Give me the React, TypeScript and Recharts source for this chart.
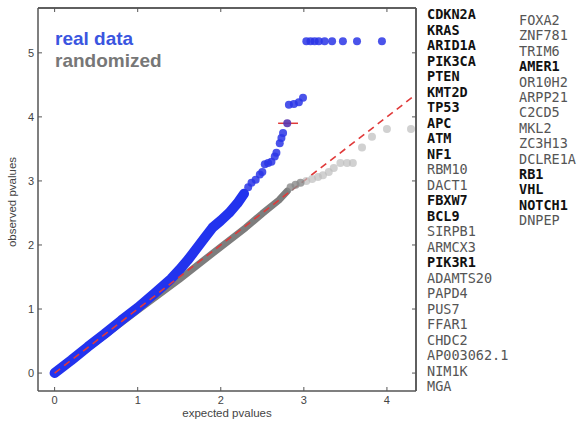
import { ComposedChart, Line, Scatter, XAxis, YAxis, ReferenceLine } from "recharts";

// dense part of the real data (drawn as a thick band)
const realBand = [
  { x: 0, y: 0 },
  { x: 0.2, y: 0.2 },
  { x: 0.4, y: 0.41 },
  { x: 0.6, y: 0.61 },
  { x: 0.8, y: 0.82 },
  { x: 1.0, y: 1.02 },
  { x: 1.2, y: 1.24 },
  { x: 1.4, y: 1.47 },
  { x: 1.5, y: 1.61 },
  { x: 1.6, y: 1.76 },
  { x: 1.7, y: 1.93 },
  { x: 1.8, y: 2.1 },
  { x: 1.9, y: 2.27 },
  { x: 2.0, y: 2.38 },
  { x: 2.1, y: 2.5 },
  { x: 2.2, y: 2.65 },
  { x: 2.28, y: 2.8 },
];

const realPoints = [
  { x: 2.33, y: 2.9 },
  { x: 2.37, y: 2.97 },
  { x: 2.42, y: 3.02 },
  { x: 2.47, y: 3.1 },
  { x: 2.5, y: 3.14 },
  { x: 2.53, y: 3.26 },
  { x: 2.57, y: 3.28 },
  { x: 2.61, y: 3.3 },
  { x: 2.65, y: 3.38 },
  { x: 2.67, y: 3.44 },
  { x: 2.71, y: 3.59 },
  { x: 2.73, y: 3.67 },
  { x: 2.75, y: 3.75 },
  { x: 2.82, y: 4.19 },
  { x: 2.88, y: 4.2 },
  { x: 2.94, y: 4.23 },
  { x: 2.99, y: 4.3 },
  { x: 3.03, y: 5.18 },
  { x: 3.08, y: 5.18 },
  { x: 3.13, y: 5.18 },
  { x: 3.18, y: 5.18 },
  { x: 3.25, y: 5.18 },
  { x: 3.34, y: 5.18 },
  { x: 3.47, y: 5.18 },
  { x: 3.64, y: 5.18 },
  { x: 3.94, y: 5.18 },
];

const markedPoint = [{ x: 2.8, y: 3.9 }];

// dense part of the randomized data
const randBand = [
  { x: 0, y: 0 },
  { x: 0.5, y: 0.49 },
  { x: 1.0, y: 0.98 },
  { x: 1.5, y: 1.46 },
  { x: 2.0, y: 1.97 },
  { x: 2.3, y: 2.27 },
  { x: 2.5, y: 2.49 },
  { x: 2.7, y: 2.7 },
  { x: 2.8, y: 2.84 },
];

const randPointsDark = [
  { x: 2.84, y: 2.9 },
  { x: 2.9, y: 2.94 },
  { x: 2.96, y: 2.97 },
];

const randPoints = [
  { x: 3.03, y: 3.0 },
  { x: 3.1, y: 3.03 },
  { x: 3.17, y: 3.06 },
  { x: 3.23, y: 3.09 },
  { x: 3.3, y: 3.14 },
  { x: 3.36, y: 3.2 },
  { x: 3.44, y: 3.28 },
  { x: 3.52, y: 3.28 },
  { x: 3.59, y: 3.28 },
  { x: 3.7, y: 3.52 },
  { x: 3.82, y: 3.69 },
  { x: 4.0, y: 3.81 },
  { x: 4.29, y: 3.81 },
];

const diagonal = [
  { x: 0, y: 0 },
  { x: 4.35, y: 4.35 },
];

const X_DOMAIN: [number, number] = [-0.2, 4.35];
const Y_DOMAIN: [number, number] = [-0.28, 5.7];
const xTicks = [0, 1, 2, 3, 4];
const yTicks = [0, 1, 2, 3, 4, 5];

const genesLeft: [string, boolean][] = [
  ["CDKN2A", true],
  ["KRAS", true],
  ["ARID1A", true],
  ["PIK3CA", true],
  ["PTEN", true],
  ["KMT2D", true],
  ["TP53", true],
  ["APC", true],
  ["ATM", true],
  ["NF1", true],
  ["RBM10", false],
  ["DACT1", false],
  ["FBXW7", true],
  ["BCL9", true],
  ["SIRPB1", false],
  ["ARMCX3", false],
  ["PIK3R1", true],
  ["ADAMTS20", false],
  ["PAPD4", false],
  ["PUS7", false],
  ["FFAR1", false],
  ["CHDC2", false],
  ["AP003062.1", false],
  ["NIM1K", false],
  ["MGA", false],
];

const genesRight: [string, boolean][] = [
  ["FOXA2", false],
  ["ZNF781", false],
  ["TRIM6", false],
  ["AMER1", true],
  ["OR10H2", false],
  ["ARPP21", false],
  ["C2CD5", false],
  ["MKL2", false],
  ["ZC3H13", false],
  ["DCLRE1A", false],
  ["RB1", true],
  ["VHL", true],
  ["NOTCH1", true],
  ["DNPEP", false],
];

const AXIS = "#555";
const tickFont = "'Liberation Sans', Arial, sans-serif";

const BottomTick = (props: any) => {
  const { x, y, payload } = props;
  const axisY = y - 4;
  return (
    <g>
      <line x1={x} x2={x} y1={axisY} y2={axisY - 4} stroke={AXIS} />
      <text x={x} y={y + 9} textAnchor="middle" fontSize={11} fill="#444" fontFamily={tickFont}>
        {payload.value}
      </text>
    </g>
  );
};

const LeftTick = (props: any) => {
  const { x, y, payload } = props;
  const axisX = x + 4;
  return (
    <g>
      <line x1={axisX} x2={axisX + 4} y1={y} y2={y} stroke={AXIS} />
      <text x={x} y={y + 4} textAnchor="end" fontSize={11} fill="#444" fontFamily={tickFont}>
        {payload.value}
      </text>
    </g>
  );
};

const TopTick = (props: any) => {
  const { x, y } = props;
  return <line x1={x} x2={x} y1={y} y2={y + 4} stroke={AXIS} />;
};

const RightTick = (props: any) => {
  const { x, y } = props;
  return <line x1={x} x2={x - 4} y1={y} y2={y} stroke={AXIS} />;
};

const dot = (fill: string, opacity: number, r = 4) => (props: any) =>
  <circle cx={props.cx} cy={props.cy} r={r} fill={fill} fillOpacity={opacity} />;

const GeneColumn = ({ genes, left, top, lh }: { genes: [string, boolean][]; left: number; top: number; lh: number }) => (
  <div
    style={{
      position: "absolute",
      left,
      top,
      fontFamily: "'DejaVu Sans Mono', monospace",
      fontSize: 13.5,
      lineHeight: `${lh}px`,
      whiteSpace: "pre",
    }}
  >
    {genes.map(([g, b]) => (
      <div key={g} style={{ fontWeight: b ? "bold" : "normal", color: b ? "#111" : "#555" }}>
        {g}
      </div>
    ))}
  </div>
);

export default function App() {
  return (
    <div style={{ position: "absolute", left: 0, top: 0, width: 581, height: 421, background: "#fff" }}>
      <ComposedChart width={581} height={421} margin={{ top: 7, right: 164, bottom: 10, left: 8 }}>
        <XAxis
          type="number"
          dataKey="x"
          domain={X_DOMAIN}
          ticks={xTicks}
          allowDataOverflow
          height={20}
          tickSize={0}
          tickMargin={4}
          tick={<BottomTick />}
          axisLine={{ stroke: AXIS, strokeWidth: 1.5 }}
        />
        <XAxis
          xAxisId="t"
          orientation="top"
          type="number"
          dataKey="x"
          domain={X_DOMAIN}
          ticks={xTicks}
          allowDataOverflow
          height={1}
          tickSize={0}
          tickMargin={0}
          tick={<TopTick />}
          axisLine={{ stroke: AXIS, strokeWidth: 1.5 }}
        />
        <YAxis
          type="number"
          dataKey="y"
          domain={Y_DOMAIN}
          ticks={yTicks}
          allowDataOverflow
          width={30}
          tickSize={0}
          tickMargin={4}
          tick={<LeftTick />}
          axisLine={{ stroke: AXIS, strokeWidth: 1.5 }}
        />
        <YAxis
          yAxisId="r"
          orientation="right"
          type="number"
          dataKey="y"
          domain={Y_DOMAIN}
          ticks={yTicks}
          allowDataOverflow
          width={1}
          tickSize={0}
          tickMargin={0}
          tick={<RightTick />}
          axisLine={{ stroke: AXIS, strokeWidth: 1.5 }}
        />
        <ReferenceLine x={X_DOMAIN[1]} stroke={AXIS} strokeWidth={1.5} ifOverflow="visible" />
        <ReferenceLine y={Y_DOMAIN[1]} stroke={AXIS} strokeWidth={1.5} ifOverflow="visible" />
        <Line
          data={randBand}
          dataKey="y"
          type="linear"
          stroke="#7d7d7d"
          strokeWidth={7}
          strokeLinecap="round"
          strokeLinejoin="round"
          dot={false}
          isAnimationActive={false}
        />
        <Scatter data={randPoints} dataKey="y" shape={dot("#bdbdbd", 0.7)} isAnimationActive={false} />
        <Scatter data={randPointsDark} dataKey="y" shape={dot("#8a8a8a", 0.8)} isAnimationActive={false} />
        <Line
          data={realBand}
          dataKey="y"
          type="linear"
          stroke="#2233ee"
          strokeWidth={10}
          strokeLinecap="round"
          strokeLinejoin="round"
          dot={false}
          isAnimationActive={false}
        />
        <Scatter data={realPoints} dataKey="y" shape={dot("#2a35e6", 0.85)} isAnimationActive={false} />
        <Line
          data={diagonal}
          dataKey="y"
          type="linear"
          stroke="#e03a3a"
          strokeWidth={1.6}
          strokeDasharray="7 5"
          dot={false}
          isAnimationActive={false}
        />
        <ReferenceLine
          segment={[
            { x: 2.69, y: 3.9 },
            { x: 2.93, y: 3.9 },
          ]}
          stroke="#e03a3a"
          strokeWidth={1.5}
        />
        <Scatter data={markedPoint} dataKey="y" shape={dot("#5a35b0", 0.9)} isAnimationActive={false} />
      </ComposedChart>

      <div
        style={{
          position: "absolute",
          left: 55,
          top: 28,
          fontFamily: "'Liberation Sans', Arial, sans-serif",
          fontWeight: "bold",
          fontSize: 19,
          lineHeight: "22px",
        }}
      >
        <div style={{ color: "#3a55e0" }}>real data</div>
        <div style={{ color: "#777" }}>randomized</div>
      </div>

      <div
        style={{
          position: "absolute",
          left: 180,
          top: 407,
          width: 94,
          textAlign: "center",
          fontFamily: tickFont,
          fontSize: 11.5,
          color: "#444",
          whiteSpace: "nowrap",
        }}
      >
        expected pvalues
      </div>
      <div
        style={{
          position: "absolute",
          left: 12,
          top: 202,
          transform: "translate(-50%, -50%) rotate(-90deg)",
          fontFamily: tickFont,
          fontSize: 11.5,
          color: "#444",
          whiteSpace: "nowrap",
        }}
      >
        observed pvalues
      </div>

      <GeneColumn genes={genesLeft} left={427} top={7} lh={15.5} />
      <GeneColumn genes={genesRight} left={519} top={13} lh={15.4} />
    </div>
  );
}
